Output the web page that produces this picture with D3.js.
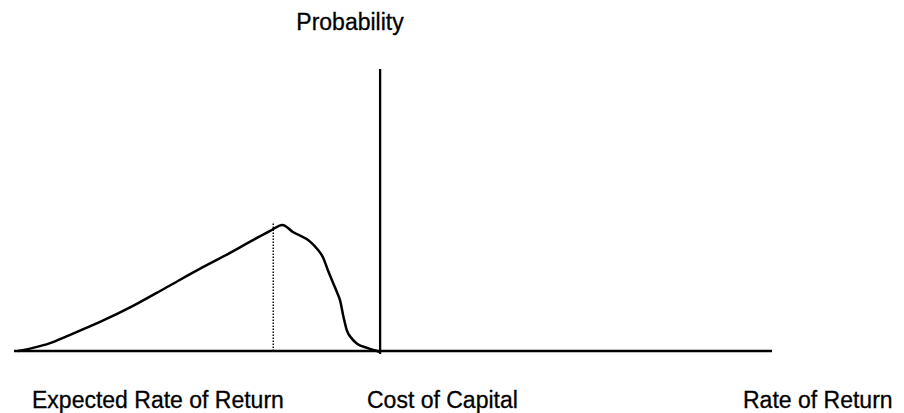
<!DOCTYPE html>
<html>
<head>
<meta charset="utf-8">
<script src="https://cdn.jsdelivr.net/npm/d3@7"></script>
<style>
  body { margin: 0; background: #fff; }
  text { font-family: "Liberation Sans", Arial, sans-serif; fill: #000; stroke: #000; stroke-width: 0.3px; }
</style>
</head>
<body>
<div id="chart"></div>
<script>
// rate of return (0-100 units along the axis) and probability (0-1 of axis height)
var rates = [0.5, 2.5, 4.75, 7.0, 11.35, 15.7, 20.2, 24.5, 28.5, 31.1, 33.8, 35.4,
             36.8, 39.1, 40.0, 40.8, 41.4, 42.1, 42.6, 43.0, 43.5, 43.9, 44.6, 45.3,
             46.6, 47.4, 47.9, 48.3];
var probs = [0, 0.011, 0.028, 0.053, 0.103, 0.160, 0.227, 0.291, 0.348, 0.387, 0.426, 0.447,
             0.422, 0.387, 0.362, 0.330, 0.287, 0.241, 0.209, 0.181, 0.117, 0.074, 0.043, 0.025,
             0.011, 0.004, 0, -0.004];

var expectedRate = 34.2;
var expectedProb = 0.455;
var costOfCapital = 48.3;
var axisMax = 1.0;

var labels = {
    yAxis: "Probability",
    expected: "Expected Rate of Return",
    cost: "Cost of Capital",
    xAxis: "Rate of Return"
};

var width = 904, height = 413;
var margin = {top: 69, right: 132, bottom: 62, left: 14};

var svg = d3.select("#chart")
    .append("svg")
    .attr("width", width)
    .attr("height", height);

var x = d3.scaleLinear()
    .domain([0, 100])
    .range([margin.left, width - margin.right]);

var y = d3.scaleLinear()
    .domain([0, axisMax])
    .range([height - margin.bottom, margin.top]);

var data = rates.map(function(r, i) { return {x: r, y: probs[i]}; });

// horizontal axis (rate of return)
svg.append("line")
    .attr("x1", x(0)).attr("x2", x(100))
    .attr("y1", y(0)).attr("y2", y(0))
    .attr("stroke", "#000")
    .attr("stroke-width", 2.5);

// vertical axis at the cost of capital
svg.append("line")
    .attr("x1", x(costOfCapital)).attr("x2", x(costOfCapital))
    .attr("y1", y(0) + 3).attr("y2", y(axisMax))
    .attr("stroke", "#000")
    .attr("stroke-width", 2.3);

// dotted line at expected return
svg.append("line")
    .attr("x1", x(expectedRate)).attr("x2", x(expectedRate))
    .attr("y1", y(0)).attr("y2", y(expectedProb))
    .attr("stroke", "#000")
    .attr("stroke-width", 1.4)
    .attr("stroke-dasharray", "1.5,1.5");

// probability curve
var line = d3.line()
    .x(function(d) { return x(d.x); })
    .y(function(d) { return y(d.y); })
    .curve(d3.curveMonotoneX);

svg.append("path")
    .datum(data)
    .attr("d", line)
    .attr("fill", "none")
    .attr("stroke", "#000")
    .attr("stroke-width", 2.5)
    .attr("stroke-linejoin", "round");

// labels
svg.append("text")
    .attr("x", 350).attr("y", 30)
    .attr("text-anchor", "middle")
    .style("font-size", "23px")
    .text(labels.yAxis);

svg.append("text")
    .attr("x", 32).attr("y", 408)
    .style("font-size", "23px")
    .text(labels.expected);

svg.append("text")
    .attr("x", 367).attr("y", 408)
    .style("font-size", "23px")
    .text(labels.cost);

svg.append("text")
    .attr("x", 743).attr("y", 408)
    .style("font-size", "23px")
    .text(labels.xAxis);
</script>
</body>
</html>
